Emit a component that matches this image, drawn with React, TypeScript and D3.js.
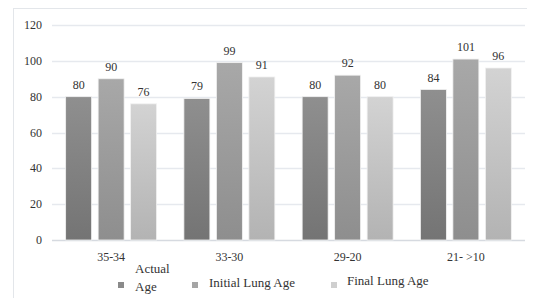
import React from 'react';
import * as d3 from 'd3';

const categories = ['35-34', '33-30', '29-20', '21- >10'];
const seriesNames = ['Actual Age', 'Initial Lung Age', 'Final Lung Age'];
const actualAge = [80, 79, 80, 84];
const initialLungAge = [90, 99, 92, 101];
const finalLungAge = [76, 91, 80, 96];
const yTicks = [0, 20, 40, 60, 80, 100, 120];

const gradients = [
  ['#8f8f8f', '#747474'],
  ['#a8a8a8', '#8e8e8e'],
  ['#d3d3d3', '#b3b3b3'],
];
const legendColors = ['#8a8a8a', '#a5a5a5', '#cfcfcf'];

const W = 535;
const H = 306;
const margin = { left: 52, right: 10 };
const FONT = 'Liberation Serif, Times New Roman, serif';

export default function App() {
  const series = [actualAge, initialLungAge, finalLungAge];

  const x0 = d3.scaleBand().domain(categories).range([margin.left, W - margin.right]);
  const x1 = d3.scaleBand<number>()
    .domain([0, 1, 2])
    .range([0, x0.bandwidth()])
    .paddingInner(0.2)
    .paddingOuter(0.42);
  const y = d3.scaleLinear().domain([0, 120]).range([240, 25]);

  const legendX = [118, 192, 331];
  const legendTextX = [135, 209, 347];

  return (
    <div style={{ margin: -8, width: W, height: H, background: 'white' }}>
      <svg width={W} height={H} style={{ display: 'block' }} fontFamily={FONT} fill="#333">
        <defs>
          {gradients.map((g, i) => (
            <linearGradient key={i} id={`grad${i}`} x1={0} y1={0} x2={0} y2={1}>
              <stop offset="0%" stopColor={g[0]} />
              <stop offset="100%" stopColor={g[1]} />
            </linearGradient>
          ))}
        </defs>
        <rect x={13.5} y={8.5} width={521} height={296} fill="white" stroke="#e3e6ea" />

        {yTicks.map(t => (
          <line key={`g${t}`} x1={margin.left} x2={W - margin.right}
            y1={Math.round(y(t)) + 0.5} y2={Math.round(y(t)) + 0.5}
            stroke={t === 0 ? '#d6dae0' : '#e6e9ee'} strokeWidth={1.3} />
        ))}
        {yTicks.map(t => (
          <text key={`t${t}`} x={42} y={y(t) + 4} textAnchor="end" fontSize={12} fill="#333">{t}</text>
        ))}

        {categories.map((c, ci) => (
          <g key={c}>
            {series.map((s, si) => {
              const bx = (x0(c) as number) + (x1(si) as number);
              return (
                <g key={si}>
                  <rect x={bx} y={y(s[ci])} width={x1.bandwidth()} height={y(0) - y(s[ci])}
                    fill={`url(#grad${si})`} stroke="#f2f2f2" strokeWidth={0.8} />
                  <text x={bx + x1.bandwidth() / 2} y={y(s[ci]) - 8} textAnchor="middle"
                    fontSize={12} fill="#333">{s[ci]}</text>
                </g>
              );
            })}
            <text x={(x0(c) as number) + x0.bandwidth() / 2} y={261} textAnchor="middle"
              fontSize={12} fill="#333">{c}</text>
          </g>
        ))}

        {seriesNames.map((name, i) => (
          <g key={name}>
            <rect x={legendX[i]} y={282} width={6} height={6} fill={legendColors[i]} />
            {i === 0 ? (
              <text fontSize={13} fill="#333">
                <tspan x={legendTextX[i]} y={273}>{name.split(' ')[0]}</tspan>
                <tspan x={legendTextX[i]} y={291}>{name.split(' ')[1]}</tspan>
              </text>
            ) : (
              <text x={legendTextX[i]} y={i === 1 ? 287 : 285} fontSize={13} fill="#333">{name}</text>
            )}
          </g>
        ))}
      </svg>
    </div>
  );
}
